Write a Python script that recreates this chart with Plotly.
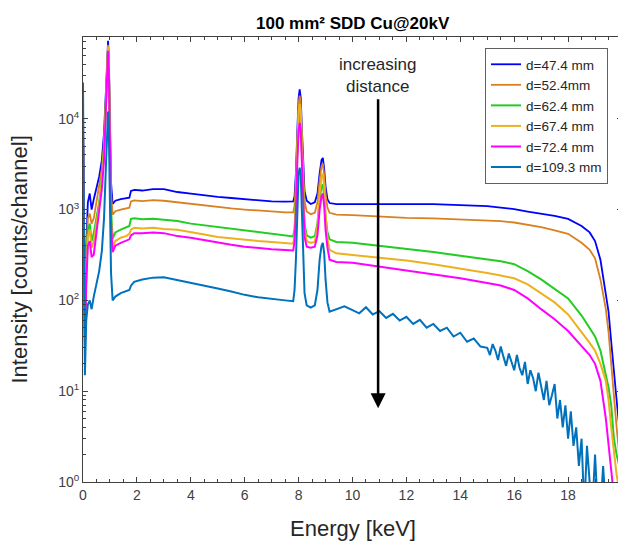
import plotly.graph_objects as go

# ---------------- data ----------------
energy = [
    0, 0.04, 0.07, 0.12, 0.18, 0.25, 0.32, 0.4, 0.5, 0.6,
    0.7, 0.78, 0.85, 0.9, 0.93, 0.96, 1.0, 1.04, 1.1, 1.2,
    1.4, 1.6, 1.72, 1.78, 1.9, 2.2, 2.6, 3.0, 3.5, 4.0,
    4.5, 5.0, 5.5, 6.0, 6.5, 7.0, 7.5, 7.8, 7.85, 7.9,
    7.95, 8.0, 8.04, 8.08, 8.12, 8.17, 8.22, 8.3, 8.45, 8.6,
    8.7, 8.78, 8.85, 8.9, 8.95, 9.0, 9.07, 9.15, 9.4, 10,
    11, 12, 13, 14, 15, 15.5, 16, 16.5, 17, 17.5,
    18, 18.5, 18.8, 19.0, 19.2, 19.4, 19.5, 19.6, 19.7, 19.8,
    19.9, 20.0,
]

d474 = [
    9000, 300, 40, 400, 1200, 1500, 1000, 1300, 1800, 2300,
    3500, 7000, 20000, 55000, 72000, 45000, 8000, 2000, 1150, 1250,
    1300, 1320, 1350, 1600, 1650, 1620, 1680, 1680, 1560, 1500,
    1430, 1380, 1340, 1300, 1260, 1230, 1220, 1230, 1400, 2500,
    7000, 17000, 21000, 17000, 8000, 3000, 1600, 1250, 1150, 1200,
    1500, 2500, 3500, 3700, 2800, 1800, 1300, 1180, 1150, 1150,
    1160, 1150, 1150, 1130, 1090, 1050, 1010, 950, 900, 850,
    790, 660, 560, 450, 280, 120, 75, 35, 15, 8,
    4, 6,
]
d524 = [
    8000, 200, 60, 300, 800, 900, 700, 800, 1200, 1700,
    2800, 5500, 17000, 50000, 65000, 40000, 7000, 1500, 880, 960,
    1000, 1030, 1050, 1230, 1260, 1240, 1270, 1250, 1200, 1150,
    1100, 1060, 1030, 1000, 970, 950, 930, 930, 1100, 2100,
    6000, 14500, 18000, 14500, 6800, 2500, 1250, 950, 890, 920,
    1200, 2100, 3000, 3200, 2400, 1500, 1050, 920, 880, 870,
    840, 810, 800, 780, 760, 745, 720, 680, 640, 590,
    540, 430, 360, 290, 170, 80, 45, 20, 8, 4,
    2, 3,
]
d624 = [
    6000, 150, 40, 200, 600, 700, 450, 550, 800, 1200,
    2200, 4500, 15000, 45000, 60000, 35000, 5500, 1000, 480, 560,
    600, 630, 660, 790, 800, 780, 790, 770, 750, 700,
    670, 640, 620, 590, 560, 540, 515, 505, 620, 1300,
    4200, 10000, 12500, 10000, 4500, 1500, 700, 520, 490, 510,
    700, 1300, 1800, 1900, 1400, 850, 560, 470, 440, 430,
    400, 370, 340, 310, 285, 270, 250, 210, 170, 135,
    105, 68, 50, 40, 28, 15, 11, 7, 3, 2,
    1.5, 0.8,
]
d674 = [
    7000, 150, 35, 180, 500, 600, 380, 450, 700, 1100,
    2000, 4200, 14000, 45000, 62000, 38000, 5000, 800, 380, 450,
    490, 510, 540, 600, 630, 620, 630, 610, 600, 560,
    530, 500, 480, 460, 450, 440, 425, 420, 540, 1200,
    4500, 12000, 14500, 12000, 5000, 1600, 620, 450, 430, 440,
    650, 1500, 2300, 2500, 1800, 900, 480, 360, 330, 315,
    295, 275, 250, 225, 200, 188, 175, 150, 120, 95,
    70, 45, 34, 28, 20, 13, 8, 4, 2, 1.2,
    0.8, 0.5,
]
d724 = [
    10000, 100, 30, 150, 400, 450, 300, 320, 550, 900,
    1700, 3500, 12000, 40000, 56000, 33000, 4500, 700, 340, 400,
    430, 450, 470, 520, 550, 550, 560, 550, 510, 490,
    460, 430, 410, 390, 375, 365, 358, 355, 440, 950,
    3200, 7500, 9000, 7500, 3400, 1100, 500, 390, 380, 390,
    520, 1000, 1400, 1500, 1100, 600, 380, 280, 265, 260,
    235, 214, 195, 175, 155, 146, 130, 105, 80, 62,
    46, 31, 25, 20, 13, 5, 2.5, 1.3, 0.7, 0.5,
    0.5, 0.5,
]

# d=109.3 mm: same grid up to 9.4 keV, then a finer, noisy tail
energy_1093 = [
    0, 0.04, 0.07, 0.12, 0.18, 0.25, 0.32, 0.4, 0.5, 0.6,
    0.7, 0.78, 0.85, 0.9, 0.93, 0.96, 1.0, 1.04, 1.1, 1.2,
    1.4, 1.6, 1.72, 1.78, 1.9, 2.2, 2.6, 3.0, 3.5, 4.0,
    4.5, 5.0, 5.5, 6.0, 6.5, 7.0, 7.5, 7.8, 7.85, 7.9,
    7.95, 8.0, 8.04, 8.08, 8.12, 8.17, 8.22, 8.3, 8.45, 8.6,
    8.7, 8.78, 8.85, 8.9, 8.95, 9.0, 9.07, 9.15, 9.4, 9.7,
    10.0, 10.25, 10.5, 10.75, 11.0, 11.25, 11.5, 11.75, 12.0, 12.25,
    12.5, 12.75, 13.0, 13.25, 13.5, 13.75, 14.0, 14.25, 14.5, 14.75,
    15.0, 15.1, 15.2, 15.3, 15.4, 15.5, 15.6, 15.7, 15.8, 15.9,
    16.0, 16.1, 16.2, 16.3, 16.4, 16.5, 16.6, 16.7, 16.8, 16.9,
    17.0, 17.1, 17.2, 17.3, 17.4, 17.5, 17.6, 17.7, 17.8, 17.9,
    18.0, 18.1, 18.2, 18.3, 18.4, 18.5, 18.6, 18.7, 18.8, 18.9,
    19.0, 19.1, 19.2, 19.3, 19.4, 19.5, 19.6, 19.7, 19.8, 19.9,
    20.0,
]
d1093 = [
    25000, 60, 15, 60, 90, 100, 80, 110, 150, 210,
    350, 800, 3000, 9000, 12000, 7000, 1000, 200, 100, 110,
    120, 125, 130, 145, 160, 170, 178, 180, 168, 158,
    145, 135, 125, 115, 108, 103, 100, 98, 130, 280,
    1000, 2500, 2900, 2400, 1000, 300, 120, 88, 83, 88,
    130, 280, 400, 430, 330, 170, 95, 75, 80, 86,
    78, 72, 84, 70, 76, 64, 71, 60, 66, 55,
    61, 50, 55, 46, 50, 40, 44, 35, 38, 31,
    30, 25, 33, 28, 22, 31, 24, 19, 26, 21,
    17, 25, 18, 15, 21, 12, 17, 14, 10, 16,
    11, 8, 13, 7, 9, 12, 5, 8, 4, 7,
    3, 6, 2.5, 4, 1.5, 3, 0.5, 2.5, 1, 0.5,
    2, 0.5, 0.5, 1.5, 0.5, 0.5, 1, 0.5, 0.5, 0.5,
    0.5,
]

series_names = ["d=47.4 mm", "d=52.4mm", "d=62.4 mm", "d=67.4 mm", "d=72.4 mm", "d=109.3 mm"]
series_x = [energy, energy, energy, energy, energy, energy_1093]
series_values = [d474, d524, d624, d674, d724, d1093]
series_colors = ["#0000FF", "#D98020", "#22CC22", "#EDB120", "#FF00FF", "#0072BD"]
series_widths = [1.8, 1.8, 2.0, 2.0, 2.0, 2.0]

x_ticks = [0, 2, 4, 6, 8, 10, 12, 14, 16, 18, 20]
y_ticks = [1, 10, 100, 1000, 10000]
y_ticktext = ["10<sup>0</sup>", "10<sup>1</sup>", "10<sup>2</sup>", "10<sup>3</sup>", "10<sup>4</sup>"]

FONT = "Liberation Sans, Arial, Helvetica, sans-serif"
AXC = "#404040"

fig = go.Figure()
for name, xs, vals, col, w in zip(series_names, series_x, series_values, series_colors, series_widths):
    assert len(vals) == len(xs), name
    fig.add_trace(go.Scatter(x=xs, y=vals, mode="lines", name=name,
                             line=dict(color=col, width=w)))

minor_y = [m * 10 ** k for k in range(0, 5) for m in range(2, 10) if m * 10 ** k < 79000]

# page body has an 8px margin: figure spans 8..626 x 8..541
fig.update_layout(
    width=618, height=533,
    margin=dict(l=75, r=4, t=29, b=59),
    paper_bgcolor="white", plot_bgcolor="white",
    font=dict(family=FONT, size=14, color=AXC),
    showlegend=True,
    legend=dict(x=(485 - 83) / 539, y=(482 - 48) / 445, xanchor="left", yanchor="top",
                bgcolor="white", bordercolor="#606060", borderwidth=1,
                font=dict(family=FONT, size=13.5, color="#262626"),
                tracegroupgap=0, itemwidth=30),
    xaxis=dict(range=[0, 20], tickvals=x_ticks, ticks="inside", ticklen=5,
               tickcolor=AXC, showline=True, linecolor=AXC, linewidth=1,
               mirror="ticks", showgrid=False, zeroline=False,
               tickfont=dict(family=FONT, size=14, color=AXC),
               minor=dict(dtick=0.5, tick0=0, ticks="inside", ticklen=3, tickcolor=AXC)),
    yaxis=dict(type="log", range=[0, 4.9], tickvals=y_ticks, ticktext=y_ticktext,
               ticks="inside", ticklen=5, tickcolor=AXC, showline=True,
               linecolor=AXC, linewidth=1, mirror="ticks", showgrid=False,
               zeroline=False, tickfont=dict(family=FONT, size=14, color=AXC),
               minor=dict(tickmode="array", tickvals=minor_y, ticks="inside",
                          ticklen=3, tickcolor=AXC)),
)

# title and axis labels
fig.add_annotation(text="<b>100 mm² SDD Cu@20kV</b>", xref="paper", yref="paper",
                   x=0.5, y=(482 - 23) / 445, showarrow=False,
                   font=dict(family=FONT, size=17, color="black"),
                   xanchor="center", yanchor="middle")
fig.add_annotation(text="Energy [keV]", xref="paper", yref="paper",
                   x=0.5, y=(482 - 528) / 445, showarrow=False,
                   font=dict(family=FONT, size=22, color="#262626"),
                   xanchor="center", yanchor="middle")
fig.add_annotation(text="Intensity [counts/channel]", xref="paper", yref="paper",
                   x=(19 - 83) / 539, y=0.5, showarrow=False, textangle=-90,
                   font=dict(family=FONT, size=22, color="#262626"),
                   xanchor="center", yanchor="middle")

# arrow and its label
fig.add_annotation(text="increasing<br>distance", xref="x", yref="y",
                   x=10.95, y=(482 - 75) / 91, showarrow=False,
                   font=dict(family=FONT, size=17, color="#262626"),
                   xanchor="center", yanchor="middle")
fig.add_annotation(text="", xref="x", yref="y", x=10.95, y=(482 - 408) / 91,
                   axref="x", ayref="y", ax=10.95, ay=(482 - 97) / 91,
                   showarrow=True, arrowhead=2, arrowsize=1.2, arrowwidth=2.5,
                   arrowcolor="black", standoff=0)

fig.write_html("out.html")
